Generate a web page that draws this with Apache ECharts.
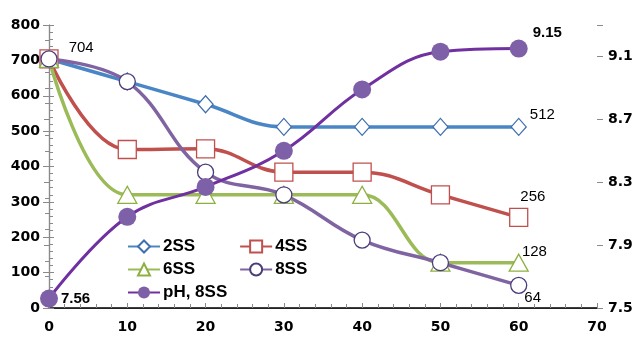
<!DOCTYPE html>
<html><head><meta charset="utf-8">
<script src="https://cdn.jsdelivr.net/npm/echarts@6/dist/echarts.min.js"></script>
<style>html,body{margin:0;padding:0;background:#fff}#c{width:639px;height:347px}</style>
</head><body><div id="c"></div>
<script>
const times = [0, 10, 20, 30, 40, 50, 60];
const ss2 = [704, 640, 576, 512, 512, 512, 512];
const ss4 = [704, 448, 450, 384, 384, 320, 256];
const ss6 = [704, 320, 320, 320, 320, 128, 128];
const ss8 = [704, 640, 384, 320, 192, 128, 64];
const ph8 = [7.56, 8.08, 8.27, 8.50, 8.89, 9.13, 9.15];
const leftTicks = [0, 800, 100];
const rightTicks = [7.5, 9.3, 0.4];
const xTicks = [0, 70, 10];

const chart = echarts.init(document.getElementById('c'));
const F = 'Arial, "Liberation Sans", sans-serif';
const pairs = (ys, labels) => times.map((t, i) => {
  const d = {value: [t, ys[i]]};
  if (labels && labels[i]) d.label = labels[i];
  return d;
});
const lab = (pos, off, bold) => ({show: true, position: pos, offset: off, fontFamily: F, fontSize: 15,
  fontWeight: bold ? 'bold' : 'normal', color: '#000', formatter: p => p.value[1]});
const axisLbl = {color: '#000', fontFamily: '"DejaVu Sans", sans-serif', fontSize: 14, fontWeight: 'bold'};
const grey = '#8a8a8a';

chart.setOption({
  animation: false,
  grid: {left: 49, right: 42, top: 25, bottom: 39},
  legend: [
    {data: ['2SS', '4SS'], left: 127, top: 238},
    {data: ['6SS', '8SS'], left: 127, top: 261},
    {data: ['pH, 8SS'], left: 127, top: 284}
  ].map(l => Object.assign(l, {orient: 'horizontal', itemWidth: 32, itemHeight: 15, itemGap: 44, padding: 0,
    textStyle: {fontFamily: F, fontSize: 17, fontWeight: 'bold', color: '#000', padding: [0, 0, 0, -2]}})),
  xAxis: [
    {type: 'value', min: xTicks[0], max: xTicks[1], interval: xTicks[2], position: 'bottom',
      axisLine: {lineStyle: {color: grey, width: 1.2}},
      axisTick: {inside: true, length: 5, lineStyle: {color: grey}},
      minorTick: {show: true, splitNumber: 5, length: 4, lineStyle: {color: grey}},
      splitLine: {show: false}, axisLabel: Object.assign({margin: 12}, axisLbl)},
    {type: 'value', min: xTicks[0], max: xTicks[1], position: 'top',
      axisLine: {show: true, lineStyle: {color: '#000', width: 1.5}},
      axisTick: {show: false}, axisLabel: {show: false}, splitLine: {show: false}}
  ],
  yAxis: [
    {type: 'value', min: leftTicks[0], max: leftTicks[1], interval: leftTicks[2], position: 'left',
      axisLine: {show: true, lineStyle: {color: grey, width: 1.2}},
      axisTick: {show: true, inside: true, length: 5, lineStyle: {color: grey}},
      minorTick: {show: true, splitNumber: 5, length: 4, lineStyle: {color: grey}},
      splitLine: {show: false}, axisLabel: Object.assign({margin: 9}, axisLbl)},
    {type: 'value', min: rightTicks[0], max: rightTicks[1], interval: rightTicks[2], position: 'right',
      axisLine: {show: true, lineStyle: {color: grey, width: 1.2}},
      axisTick: {show: true, inside: true, length: 5, lineStyle: {color: grey}},
      minorTick: {show: true, splitNumber: 4, length: 4, lineStyle: {color: grey}},
      splitLine: {show: false},
      axisLabel: Object.assign({margin: 11, showMaxLabel: false,
        formatter: v => (Math.abs(v - rightTicks[1]) < 1e-6 ? '' : v.toFixed(1))}, axisLbl)},
    {type: 'value', min: leftTicks[0], max: leftTicks[1], interval: leftTicks[2], position: 'left',
      axisLine: {show: false}, axisTick: {show: true, inside: false, length: 6, lineStyle: {color: grey}},
      axisLabel: {show: false}, splitLine: {show: false}},
    {type: 'value', min: rightTicks[0], max: rightTicks[1], interval: rightTicks[2], position: 'right',
      axisLine: {show: false}, axisTick: {show: true, inside: false, length: 6, lineStyle: {color: grey}},
      axisLabel: {show: false}, splitLine: {show: false}}
  ],
  series: [
    {name: '2SS', type: 'line', smooth: 0.4, yAxisIndex: 0,
      data: pairs(ss2, {6: lab('right', [-2, -12])}),
      symbol: 'diamond', symbolSize: [15, 17],
      lineStyle: {color: '#4A86C6', width: 3.5},
      itemStyle: {color: '#fff', borderColor: '#3F6FAF', borderWidth: 1.3}},
    {name: '4SS', type: 'line', smooth: 0.4, yAxisIndex: 0,
      data: pairs(ss4, {6: lab('right', [-13, -21])}),
      symbol: 'rect', symbolSize: 18,
      lineStyle: {color: '#C0504D', width: 3.5},
      itemStyle: {color: '#fff', borderColor: '#C0504D', borderWidth: 1.3}},
    {name: '6SS', type: 'line', smooth: 0.4, yAxisIndex: 0,
      data: pairs(ss6, {6: lab('right', [-12, -11])}),
      symbol: 'triangle', symbolSize: [19, 17],
      lineStyle: {color: '#9BBB59', width: 3.5},
      itemStyle: {color: '#fff', borderColor: '#8DB043', borderWidth: 1.3}},
    {name: '8SS', type: 'line', smooth: 0.4, yAxisIndex: 0,
      data: pairs(ss8, {0: lab('right', [6, -11]), 6: lab('right', [-8, 12])}),
      symbol: 'circle', symbolSize: 16,
      lineStyle: {color: '#8064A2', width: 3.5},
      itemStyle: {color: '#fff', borderColor: '#4B3C7E', borderWidth: 1.3}},
    {name: 'pH, 8SS', type: 'line', smooth: 0.4, yAxisIndex: 1,
      data: pairs(ph8, {0: lab('right', [-2, 0], true), 6: lab('right', [0, -16], true)}),
      symbol: 'circle', symbolSize: 18,
      lineStyle: {color: '#7030A0', width: 3},
      itemStyle: {color: '#7E60A8', borderColor: '#7E60A8', borderWidth: 0}}
  ]
});
</script></body></html>
